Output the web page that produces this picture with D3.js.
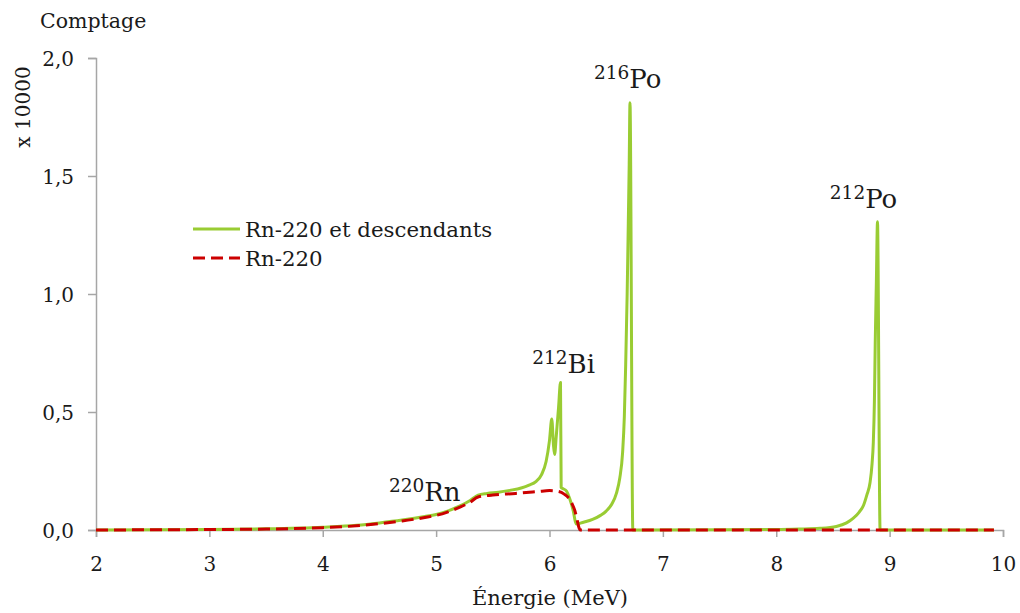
<!DOCTYPE html>
<html>
<head>
<meta charset="utf-8">
<script src="https://cdn.jsdelivr.net/npm/d3@7"></script>
<style>
  body { margin: 0; background: #fff; }
  svg { display: block; font-family: "DejaVu Serif", serif; }
</style>
</head>
<body>
<svg id="chart" width="1020" height="613"></svg>
<script>
// ---- data (counts ×10000 vs energy in MeV) ----
const xTicks = [2, 3, 4, 5, 6, 7, 8, 9, 10];
const yTicks = [0, 0.5, 1.0, 1.5, 2.0];
const seriesNames = ["Rn-220 et descendants", "Rn-220"];

const energyAll = [2.0, 2.5, 3.0, 3.5, 4.0, 4.3, 4.5, 4.7, 4.9, 5.0, 5.1, 5.2, 5.3, 5.37, 5.45, 5.55, 5.65, 5.75, 5.82, 5.88, 5.93, 5.97, 6.0, 6.02, 6.035, 6.045, 6.06, 6.08, 6.097, 6.103, 6.12, 6.15, 6.18, 6.21, 6.235, 6.3, 6.38, 6.45, 6.5, 6.55, 6.59, 6.62, 6.645, 6.66, 6.672, 6.685, 6.695, 6.703, 6.71, 6.735, 6.8, 7.5, 8.0, 8.2, 8.385, 8.53, 8.62, 8.68, 8.73, 8.77, 8.8, 8.827, 8.845, 8.856, 8.866, 8.873, 8.883, 8.893, 8.916, 9.92];
const countsAll = [0, 0.001, 0.002, 0.005, 0.012, 0.02, 0.03, 0.042, 0.057, 0.066, 0.08, 0.1, 0.125, 0.148, 0.155, 0.16, 0.168, 0.178, 0.19, 0.205, 0.235, 0.29, 0.38, 0.47, 0.36, 0.32, 0.4, 0.52, 0.625, 0.18, 0.175, 0.165, 0.13, 0.08, 0.025, 0.033, 0.045, 0.062, 0.08, 0.11, 0.155, 0.22, 0.33, 0.48, 0.7, 1.0, 1.3, 1.55, 1.81, 0, 0, 0.001, 0.002, 0.004, 0.007, 0.015, 0.03, 0.05, 0.075, 0.105, 0.15, 0.2, 0.28, 0.37, 0.55, 0.79, 1.05, 1.306, 0, 0];

const energyRn = [2.0, 2.5, 3.0, 3.5, 4.0, 4.3, 4.5, 4.7, 4.9, 5.0, 5.1, 5.2, 5.3, 5.37, 5.5, 5.7, 5.9, 6.0, 6.08, 6.13, 6.17, 6.2, 6.225, 6.245, 6.26, 6.27, 9.92];
const countsRn = [0, 0.001, 0.002, 0.004, 0.01, 0.018, 0.027, 0.038, 0.053, 0.062, 0.076, 0.095, 0.118, 0.14, 0.148, 0.155, 0.163, 0.167, 0.163, 0.152, 0.135, 0.11, 0.08, 0.04, 0.01, 0, 0];

const labels = [
  { sup: "220", base: "Rn", e: 4.9, v: 0.123 },
  { sup: "212", base: "Bi", e: 6.125, v: 0.665 },
  { sup: "216", base: "Po", e: 6.69, v: 1.873 },
  { sup: "212", base: "Po", e: 8.77, v: 1.364 }
];

// ---- layout ----
const svg = d3.select("#chart");
const x = d3.scaleLinear().domain([2, 10]).range([96, 1003]);
const y = d3.scaleLinear().domain([0, 2]).range([530, 58]);
const axisColor = "#a6a6a6";
const green = "#99cc33";
const red = "#cc0000";
const ink = "#1a1a1a";

// axes
const xAxis = svg.append("g").attr("transform", "translate(0,530)")
  .call(d3.axisBottom(x).tickValues(xTicks).tickSize(7).tickPadding(10).tickFormat(d3.format("d")));
const yAxis = svg.append("g").attr("transform", "translate(96,0)")
  .call(d3.axisLeft(y).tickValues(yTicks).tickSize(8).tickPadding(14).tickFormat(d => d.toFixed(1).replace(".", ",")));
[xAxis, yAxis].forEach(g => {
  g.select(".domain").attr("stroke", axisColor).attr("stroke-width", 1.5);
  g.selectAll(".tick line").attr("stroke", axisColor).attr("stroke-width", 1.5);
  g.selectAll(".tick text").attr("fill", ink).style("font-size", "20px").style("font-family", "DejaVu Serif");
});
xAxis.selectAll(".tick text").attr("dy", "1.2em");
yAxis.selectAll(".tick text").attr("dy", "0.36em");

// axis titles
svg.append("text").attr("x", 40).attr("y", 28).attr("fill", ink)
  .style("font-size", "20.5px").text("Comptage");
svg.append("text").attr("transform", "translate(30,107) rotate(-90)").attr("text-anchor", "middle")
  .attr("fill", ink).style("font-size", "20px").text("x 10000");
svg.append("text").attr("x", 550).attr("y", 605).attr("text-anchor", "middle").attr("fill", ink)
  .style("font-size", "21px").text("Énergie (MeV)");

// lines
const line = d3.line().curve(d3.curveMonotoneX).x(d => x(d[0])).y(d => y(d[1]));
const dataAll = energyAll.map((e, i) => [e, countsAll[i]]);
const dataRn = energyRn.map((e, i) => [e, countsRn[i]]);

svg.append("path").datum(dataAll).attr("d", line).attr("fill", "none")
  .attr("stroke", green).attr("stroke-width", 3).attr("stroke-linejoin", "round");
svg.append("path").datum(dataRn).attr("d", line).attr("fill", "none")
  .attr("stroke", red).attr("stroke-width", 3).attr("stroke-dasharray", "12,6");

// legend
const leg = svg.append("g");
const legItems = [
  { name: seriesNames[0], color: green, dash: null, yy: 229 },
  { name: seriesNames[1], color: red, dash: "12,6", yy: 258 }
];
legItems.forEach(it => {
  leg.append("line").attr("x1", 193).attr("x2", 240).attr("y1", it.yy).attr("y2", it.yy)
    .attr("stroke", it.color).attr("stroke-width", 3).attr("stroke-dasharray", it.dash);
  leg.append("text").attr("x", 245).attr("y", it.yy + 8).attr("fill", ink)
    .style("font-size", "21.3px").text(it.name);
});

// peak labels
labels.forEach(l => {
  const t = svg.append("text").attr("x", x(l.e)).attr("y", y(l.v)).attr("text-anchor", "middle").attr("fill", ink);
  t.append("tspan").style("font-size", "18.5px").attr("dy", "-9").text(l.sup);
  t.append("tspan").style("font-size", "26px").attr("dy", "9").text(l.base);
});
</script>
</body>
</html>
